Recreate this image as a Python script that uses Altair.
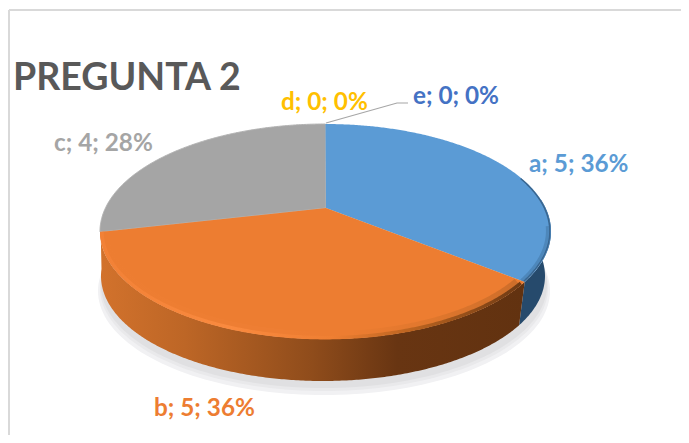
import math
import altair as alt

W, H = 673, 427
OFF = 8

categories = ["a", "b", "c", "d", "e"]
values = [5, 5, 4, 0, 0]
percents = [36, 36, 28, 0, 0]
label_colors = ["#5b9bd5", "#ed7d31", "#a5a5a5", "#ffc000", "#4472c4"]
label_x = [529, 154, 54, 281, 413]
label_y = [172, 416, 151, 110, 104]
leader_x = [326, 397, 408]
leader_y = [123, 103, 103]

total = sum(values)
angles = [0.0]
for v in values:
    angles.append(angles[-1] + 360.0 * v / total)

CX, CY, RX, RY = 325.5, 231.5, 225.5, 107.5
CX2, CY2, RX2, RY2 = 323.0, 276.0, 222.0, 105.0
APEX_X, APEX_Y = 326.0, 208.0
K = (APEX_Y - CY) / RY
S = math.sqrt(1 - K * K)


def rim(theta, cx=CX, cy=CY, rx=RX, ry=RY, f=1.0):
    t = math.radians(theta)
    u, v = f * math.sin(t), -f * math.cos(t)
    d = 1 + K * v
    return [cx + rx * u * S / d - OFF, cy + ry * (v + K) / d - OFF]


def arc(a, b, **kw):
    n = max(2, int(abs(b - a) * 2))
    return [rim(a + (b - a) * i / n, **kw) for i in range(n + 1)]


def feature(kind, coords):
    return {
        "type": "Feature",
        "properties": {},
        "geometry": {"type": kind, "coordinates": coords},
    }


def polygon(points):
    return feature("Polygon", [points + [points[0]]])


def ellipse(cx, cy, rx, ry):
    return polygon(
        [
            [cx + rx * math.cos(math.radians(d)) - OFF, cy + ry * math.sin(math.radians(d)) - OFF]
            for d in range(0, 360, 2)
        ]
    )


def wedge(a, b):
    return polygon([[APEX_X - OFF, APEX_Y - OFF]] + arc(a, b))


def wall(a, b):
    return polygon(arc(a, b) + arc(b, a, cx=CX2, cy=CY2, rx=RX2, ry=RY2))


def h_gradient(stops):
    return {
        "gradient": "linear",
        "x1": 0,
        "x2": 1,
        "y1": 0,
        "y2": 0,
        "stops": [{"offset": o, "color": c} for o, c in stops],
    }


def shape(feat, **mark):
    return alt.Chart(alt.Data(values=[feat])).mark_geoshape(**mark).project(
        type="identity", scale=1, translate=[0, 0]
    )


a0, a1, a2, a3 = angles[0], angles[1], angles[2], angles[3]

orange_wall = h_gradient(
    [
        (0.0, "#d2722c"),
        (0.2, "#bd6626"),
        (0.5, "#8f4c1b"),
        (0.7, "#683512"),
        (1.0, "#623210"),
    ]
)
rim_orange = h_gradient(
    [
        (0.0, "#f28136"),
        (0.3, "#fa8a3f"),
        (0.55, "#ef7f32"),
        (0.75, "#b8621f"),
        (1.0, "#6e3a14"),
    ]
)
rim_soft = h_gradient(
    [
        (0.0, "#ef7f33"),
        (0.4, "#f18137"),
        (0.6, "#ed7d31"),
        (0.8, "#d07029"),
        (1.0, "#a85c22"),
    ]
)

layers = [
    shape(ellipse(324, 291, 226, 104), fill="#f1f1f3", strokeWidth=0),
    shape(ellipse(324, 288, 224, 103), fill="#e9e9eb", strokeWidth=0),
    shape(ellipse(324, 285, 223, 103), fill="#e0e0e2", strokeWidth=0),
    shape(wall(a0 + 85, a1), fill="#264a6c", strokeWidth=0),
    shape(wall(a1, a2 + 4), fill=orange_wall, strokeWidth=0),
    shape(wedge(a2, a3), fill="#a5a5a5", stroke="#b2b2b2", strokeWidth=1),
    shape(wedge(a0, a1), fill="#5b9bd5", strokeWidth=0),
    shape(
        feature("LineString", arc(a0 + 72, a1, f=0.995)),
        filled=False,
        stroke="#27496a",
        strokeWidth=1.5,
        opacity=0.65,
    ),
    shape(
        feature("LineString", arc(a0 + 100, a1, f=0.985)),
        filled=False,
        stroke="#2f5a82",
        strokeWidth=3,
        opacity=0.3,
    ),
    shape(wedge(a1, a2), fill="#ed7d31", strokeWidth=0),
    shape(
        feature("LineString", arc(a1 + 1, a2, f=0.975)),
        filled=False,
        stroke=rim_soft,
        strokeWidth=7,
        opacity=0.45,
    ),
    shape(
        feature("LineString", arc(a1 + 1, a2, f=0.992)),
        filled=False,
        stroke=rim_orange,
        strokeWidth=3.5,
    ),
]

x_scale = alt.Scale(domain=[0, W], range=[0, W])
y_scale = alt.Scale(domain=[0, H], range=[0, H])

border = alt.Chart(
    alt.Data(values=[{"x": 1, "x2": 1, "y": 2, "y2": H}, {"x": 1, "x2": W, "y": 2, "y2": 2}])
).mark_rule(color="#d9d9d9", strokeWidth=2).encode(
    x=alt.X("x:Q", scale=x_scale, axis=None),
    x2="x2:Q",
    y=alt.Y("y:Q", scale=y_scale, axis=None),
    y2="y2:Q",
)

leader = alt.Chart(
    alt.Data(
        values=[
            {"x": x - OFF, "y": y - OFF, "i": i}
            for i, (x, y) in enumerate(zip(leader_x, leader_y))
        ]
    )
).mark_line(color="#a6a6a6", strokeWidth=1.2).encode(
    x=alt.X("x:Q", scale=x_scale, axis=None),
    y=alt.Y("y:Q", scale=y_scale, axis=None),
    order="i:Q",
)

label_rows = [
    {
        "t": f"{c}; {v}; {p}%",
        "x": x - OFF,
        "y": y - OFF,
        "c": col,
    }
    for c, v, p, col, x, y in zip(categories, values, percents, label_colors, label_x, label_y)
]

labels = alt.Chart(alt.Data(values=label_rows)).mark_text(
    font="Lato", fontWeight="bold", fontSize=24.3, align="left", baseline="alphabetic"
).encode(
    x=alt.X("x:Q", scale=x_scale, axis=None),
    y=alt.Y("y:Q", scale=y_scale, axis=None),
    text="t:N",
    color=alt.Color("c:N", scale=None),
)

title = alt.Chart(alt.Data(values=[{"t": "PREGUNTA 2", "x": 13 - OFF, "y": 90 - OFF}])).mark_text(
    font="Lato", fontWeight="bold", fontSize=37.5, align="left", baseline="alphabetic", color="#595959"
).encode(
    x=alt.X("x:Q", scale=x_scale, axis=None),
    y=alt.Y("y:Q", scale=y_scale, axis=None),
    text="t:N",
)

chart = alt.layer(*layers, border, leader, labels, title).resolve_scale(
    x="shared", y="shared"
).properties(
    width=W,
    height=H,
    padding=0,
    autosize=alt.AutoSizeParams(type="none"),
    background="white",
).configure_view(stroke=None)

chart.save("out.html", embed_options={"renderer": "svg", "actions": False})
